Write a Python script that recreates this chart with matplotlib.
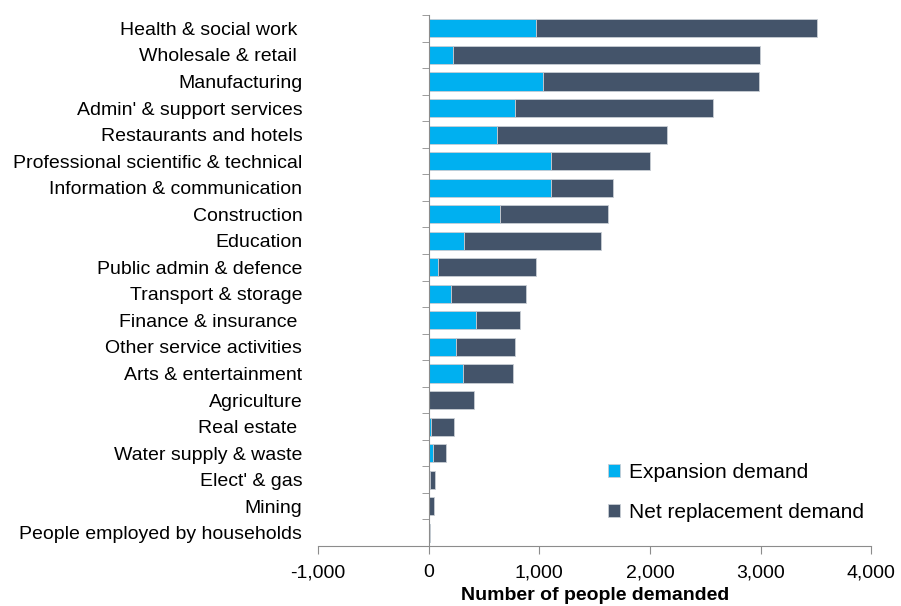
import matplotlib.pyplot as plt
from matplotlib.ticker import FuncFormatter

plt.rcParams['font.family'] = ['Liberation Sans', 'DejaVu Sans']

# categories, top to bottom as shown
sectors = [
    "Health & social work ", "Wholesale & retail ", "Manufacturing",
    "Admin' & support services", "Restaurants and hotels",
    "Professional scientific & technical", "Information & communication",
    "Construction", "Education", "Public admin & defence",
    "Transport & storage", "Finance & insurance ", "Other service activities",
    "Arts & entertainment", "Agriculture", "Real estate ",
    "Water supply & waste", "Elect' & gas", "Mining",
    "People employed by households",
]
expansion = [972, 220, 1032, 782, 620, 1107, 1107, 647, 319, 87,
             205, 424, 250, 307, 0, 24, 42, 12, 0, 10]
replacement = [2542, 2776, 1949, 1784, 1531, 897, 557, 975, 1242, 881,
               677, 400, 529, 457, 406, 205, 114, 42, 45, 6]

c_exp = "#00B0F0"
c_rep = "#44546A"

fig, ax = plt.subplots(figsize=(9.01, 6.06), dpi=100)
fig.subplots_adjust(left=0.353, right=0.967, top=0.975, bottom=0.099)

y = list(range(len(sectors)))
ax.barh(y, expansion, height=0.68, color=c_exp, edgecolor="#c8cdd4",
        linewidth=0.6, label="Expansion demand")
ax.barh(y, replacement, left=expansion, height=0.68, color=c_rep,
        edgecolor="#c8cdd4", linewidth=0.6, label="Net replacement demand")

ax.set_ylim(len(sectors) - 0.5, -0.5)
ax.set_xlim(-1000, 4000)
ax.set_xticks([-1000, 0, 1000, 2000, 3000, 4000])
ax.xaxis.set_major_formatter(FuncFormatter(lambda v, p: f"{int(v):,}"))

ax.set_yticks(y)
ax.set_yticklabels(sectors)
ax.set_yticks([i + 0.5 for i in range(-1, len(sectors))], minor=True)

# vertical axis sits at zero, labels stay on the left
ax.spines["left"].set_position(("data", 0))
for s in ("top", "right"):
    ax.spines[s].set_visible(False)
ax.spines["left"].set_color("#8c8c8c")
ax.spines["bottom"].set_color("#8c8c8c")
ax.tick_params(axis="y", which="major", length=0, pad=91, labelsize=14)
ax.tick_params(axis="y", which="minor", length=5, color="#8c8c8c")
ax.tick_params(axis="x", length=6, color="#8c8c8c", labelsize=14, pad=7)

ax.set_xlabel("Number of people demanded", fontsize=14, fontweight="bold",
              labelpad=4)

ax.legend(loc="lower right", bbox_to_anchor=(1.02, 0.01), frameon=False,
          fontsize=15, handlelength=0.6, handleheight=0.6,
          handletextpad=0.4, labelspacing=1.0)

plt.savefig("out.png", dpi=100)
